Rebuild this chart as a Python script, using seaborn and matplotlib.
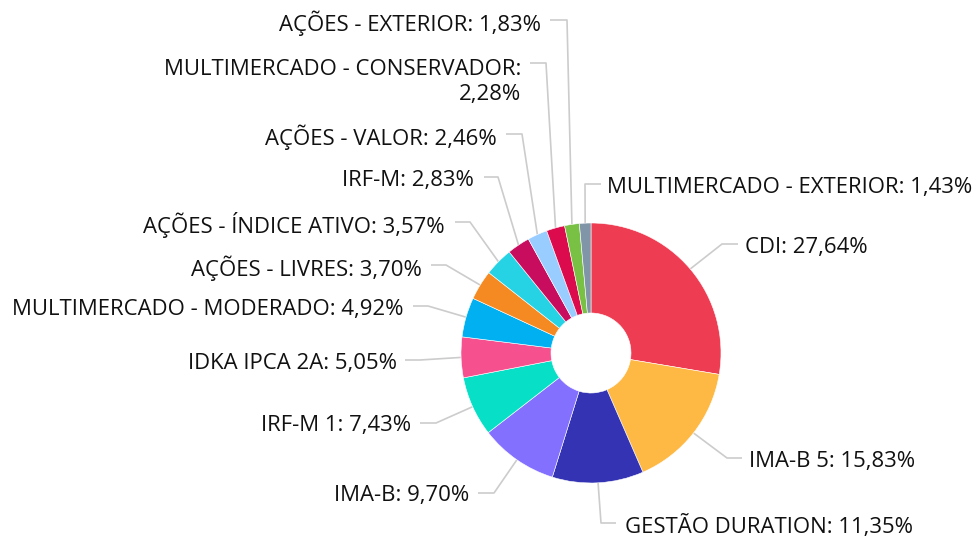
import matplotlib
matplotlib.use("Agg")
import matplotlib.pyplot as plt
import seaborn as sns
import numpy as np

sns.set_theme(style="white")
plt.rcParams['font.family'] = ['Open Sans', 'DejaVu Sans']

categories = ["CDI", "IMA-B 5", "GESTÃO DURATION", "IMA-B", "IRF-M 1", "IDKA IPCA 2A",
              "MULTIMERCADO - MODERADO", "AÇÕES - LIVRES", "AÇÕES - ÍNDICE ATIVO", "IRF-M",
              "AÇÕES - VALOR", "MULTIMERCADO - CONSERVADOR", "AÇÕES - EXTERIOR",
              "MULTIMERCADO - EXTERIOR"]
values = [27.64, 15.83, 11.35, 9.70, 7.43, 5.05, 4.92, 3.70, 3.57, 2.83, 2.46, 2.28, 1.83, 1.43]
colors = ["#EE3D52", "#FEB944", "#3333B3", "#8470FF", "#07E0C6", "#F7508E", "#00B0F0",
          "#F58A22", "#25D3E4", "#C80C5E", "#99CCFF", "#DC0B4E", "#78C144", "#8095A8"]

# layout (pixels): elbow x, elbow y, line end x, text x, side
layout = [
    (722, 244, 738, 745, 'left'),
    (727, 458, 742, 749, 'left'),
    (601, 523, 616, 625, 'left'),
    (494, 493, 478, 469, 'right'),
    (436, 423, 420, 411, 'right'),
    (420, 360, 405, 397, 'right'),
    (428, 306, 413, 403, 'right'),
    (446, 265, 431, 422, 'right'),
    (470, 222, 455, 445, 'right'),
    (498, 177, 484, 474, 'right'),
    (522, 134, 506, 497, 'right'),
    (546, 63, 530, 521, 'right'),
    (567, 20, 550, 541, 'right'),
    (585, 184, 601, 607, 'left'),
]

W, H = 974, 537
CX, CY, R = 591, 353, 130

fig = plt.figure(figsize=(W / 100, H / 100), dpi=100)
ax = fig.add_axes([0, 0, 1, 1])

wedges, _ = ax.pie(values, colors=colors, startangle=90, counterclock=False, radius=1.0,
                   wedgeprops=dict(width=1 - 40 / 130, edgecolor='white', linewidth=0.4))

def px(x, y):
    return (x - CX) / R, (CY - y) / R

FS = 15.9
for w, cat, val, (ex, ey, lx, tx, side) in zip(wedges, categories, values, layout):
    ang = np.deg2rad((w.theta1 + w.theta2) / 2)
    sx, sy = np.cos(ang), np.sin(ang)
    e = px(ex, ey)
    l = px(lx, ey)
    ax.plot([sx, e[0], l[0]], [sy, e[1], l[1]], color='#cccccc', lw=1.2, zorder=0,
            solid_capstyle='butt')
    vtxt = f"{val:.2f}".replace('.', ',') + '%'
    if cat == "MULTIMERCADO - CONSERVADOR":
        t = px(tx, ey + 19)
        ax.text(t[0], t[1], f"{cat}:\n{vtxt}", ha='right', va='center', fontsize=FS,
                color='#111111', multialignment='right', linespacing=1.3)
    else:
        t = px(tx, ey + 3)
        ax.text(t[0], t[1], f"{cat}: {vtxt}", ha=side, va='center', fontsize=FS,
                color='#111111')

ax.set_xlim(-CX / R, (W - CX) / R)
ax.set_ylim((CY - H) / R, CY / R)
ax.set_aspect('equal')
ax.axis('off')

fig.savefig("out.png", dpi=100)
